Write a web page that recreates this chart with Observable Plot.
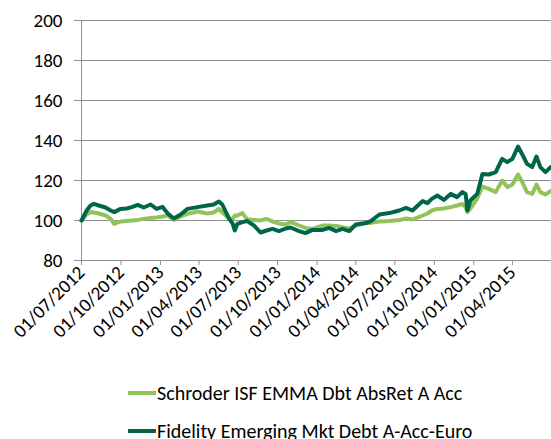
<!DOCTYPE html>
<html>
<head>
<meta charset="utf-8">
<script src="https://cdn.jsdelivr.net/npm/d3@7"></script>
<script src="https://cdn.jsdelivr.net/npm/@observablehq/plot@0.6"></script>
<style>
  html, body { margin: 0; padding: 0; background: #fff; }
  #wrap { width: 551px; height: 439px; overflow: hidden; position: relative; font-family: Carlito, Calibri, Lato, sans-serif; }
  #legend { position: relative; width: 551px; height: 74px; }
  .item { position: absolute; left: 128px; display: flex; align-items: center; font-size: 20px; color: #000; white-space: nowrap; }
  .swatch { width: 28px; height: 4px; margin-right: 1px; }
</style>
</head>
<body>
<div id="wrap">
  <div id="chart"></div>
  <div id="legend"></div>
</div>
<script>
const seriesNames = ["Schroder ISF EMMA Dbt AbsRet A Acc", "Fidelity Emerging Mkt Debt A-Acc-Euro"];
const seriesColors = ["#92c35a", "#00664a"];

const dates = [
  "2012-07-01","2012-07-13","2012-07-22","2012-07-30","2012-08-10","2012-08-26","2012-09-07","2012-09-15",
  "2012-09-30","2012-10-14","2012-10-26","2012-11-09","2012-11-23","2012-12-09","2012-12-23","2013-01-06",
  "2013-01-18","2013-02-01","2013-02-17","2013-03-05","2013-03-28","2013-04-20","2013-05-05","2013-05-17",
  "2013-05-25","2013-06-10","2013-06-18","2013-06-23","2013-06-29","2013-07-11","2013-07-22","2013-08-07",
  "2013-08-22","2013-09-05","2013-09-19","2013-10-04","2013-10-20","2013-10-31","2013-11-20","2013-12-05",
  "2013-12-21","2014-01-14","2014-01-29","2014-02-14","2014-03-01","2014-03-17","2014-04-01","2014-04-25",
  "2014-05-06","2014-05-26","2014-06-18","2014-07-11","2014-07-27","2014-08-11","2014-09-04","2014-09-15",
  "2014-09-25","2014-10-08","2014-10-23","2014-11-08","2014-11-23","2014-12-05","2014-12-13","2014-12-17",
  "2014-12-24","2015-01-09","2015-01-21","2015-02-05","2015-02-21","2015-03-08","2015-03-20","2015-04-01",
  "2015-04-14","2015-04-24","2015-05-05","2015-05-17","2015-05-27","2015-06-05","2015-06-17","2015-06-29"
];

const schroder = [
  100, 103, 104.2, 104, 103.5, 102.5, 100.8, 98.3,
  99.5, 99.8, 100, 100.3, 100.8, 101.3, 101.5, 102,
  102.5, 100.3, 102, 103.3, 104.5, 103.5, 104, 105.8,
  104, 101, 100.8, 102.5, 102.5, 103.7, 100.5, 100.3,
  100, 100.8, 99.5, 98.5, 98, 99.3, 97.5, 96.3,
  95.8, 97.5, 97.5, 97.3, 96.7, 96, 97.5, 98.7,
  98.8, 99.5, 99.7, 100.2, 101, 100.5, 102.5, 103.5,
  105, 105.8, 106, 106.7, 107.5, 108.3, 106.7, 104.2,
  106, 111, 117, 115.8, 114.2, 120, 116.7, 118,
  123, 119.2, 114.2, 113.3, 118, 114.2, 113, 114.7
];

const fidelity = [
  100, 105, 107.5, 108.3, 107.5, 106.5, 105, 104.2,
  105.8, 106, 106.7, 107.8, 106.5, 108, 105.8, 106.8,
  103.5, 101, 103, 105.8, 106.7, 107.5, 108, 109.5,
  108, 100.8, 98.5, 95, 98.3, 99.2, 99.7, 97.5,
  94, 95, 95.8, 94.7, 96, 96.5, 94.7, 93.7,
  95.3, 95.3, 96.3, 94.7, 95.8, 94.7, 98, 98.7,
  99.7, 103, 103.7, 105, 106.3, 105, 109.7, 108.7,
  110.8, 112.5, 110.3, 113.3, 111.7, 114.2, 113.3, 105,
  110, 113.3, 123.3, 123, 124.2, 130.8, 129.2, 130.8,
  137, 133, 128.3, 126.7, 132, 126.7, 124.2, 126.7
];

const xTickDates = ["2012-07-01","2012-10-01","2013-01-01","2013-04-01","2013-07-01","2013-10-01",
  "2014-01-01","2014-04-01","2014-07-01","2014-10-01","2015-01-01","2015-04-01"];
const xTickLabels = ["01/07/2012","01/10/2012","01/01/2013","01/04/2013","01/07/2013","01/10/2013",
  "01/01/2014","01/04/2014","01/07/2014","01/10/2014","01/01/2015","01/04/2015"];
const yTicks = [80, 100, 120, 140, 160, 180, 200];
const xDomain = ["2012-07-01", "2015-07-01"];

const parse = s => new Date(s + "T00:00:00Z");
const rows = [];
dates.forEach((d, i) => {
  rows.push({date: parse(d), value: schroder[i], series: seriesNames[0]});
});
dates.forEach((d, i) => {
  rows.push({date: parse(d), value: fidelity[i], series: seriesNames[1]});
});
const labelMap = new Map(xTickDates.map((d, i) => [+parse(d), xTickLabels[i]]));
const grid = "#8f8f8f";
const font = "Carlito, Calibri, Lato, sans-serif";

const chart = Plot.plot({
  width: 551,
  height: 365,
  marginLeft: 81,
  marginRight: 0,
  marginTop: 20,
  marginBottom: 105,
  style: {fontFamily: font, fontSize: "19px", color: "#000", background: "#fff", overflow: "visible"},
  x: {type: "utc", domain: xDomain.map(parse)},
  y: {domain: [80, 200]},
  color: {domain: seriesNames, range: seriesColors},
  marks: [
    Plot.ruleY(yTicks, {stroke: grid, strokeWidth: 1}),
    Plot.ruleX([parse(xDomain[0])], {stroke: grid, strokeWidth: 1}),
    Plot.axisY({ticks: yTicks, tickSize: 7, tickPadding: 12, stroke: grid, label: null, fontSize: 19}),
    Plot.axisX({ticks: xTickDates.map(parse), tickFormat: d => labelMap.get(+d), tickRotate: -45,
      tickSize: 5, tickPadding: 4, stroke: grid, label: null, fontSize: 19}),
    Plot.line(rows, {x: "date", y: "value", z: "series", stroke: "series", strokeWidth: 4, curve: "linear"})
  ]
});
document.getElementById("chart").appendChild(chart);

const legend = document.getElementById("legend");
const tops = [16, 54];
seriesNames.forEach((name, i) => {
  const item = document.createElement("div");
  item.className = "item";
  item.style.top = tops[i] + "px";
  const sw = document.createElement("div");
  sw.className = "swatch";
  sw.style.background = seriesColors[i];
  const tx = document.createElement("span");
  tx.textContent = name;
  item.appendChild(sw);
  item.appendChild(tx);
  legend.appendChild(item);
});
</script>
</body>
</html>
